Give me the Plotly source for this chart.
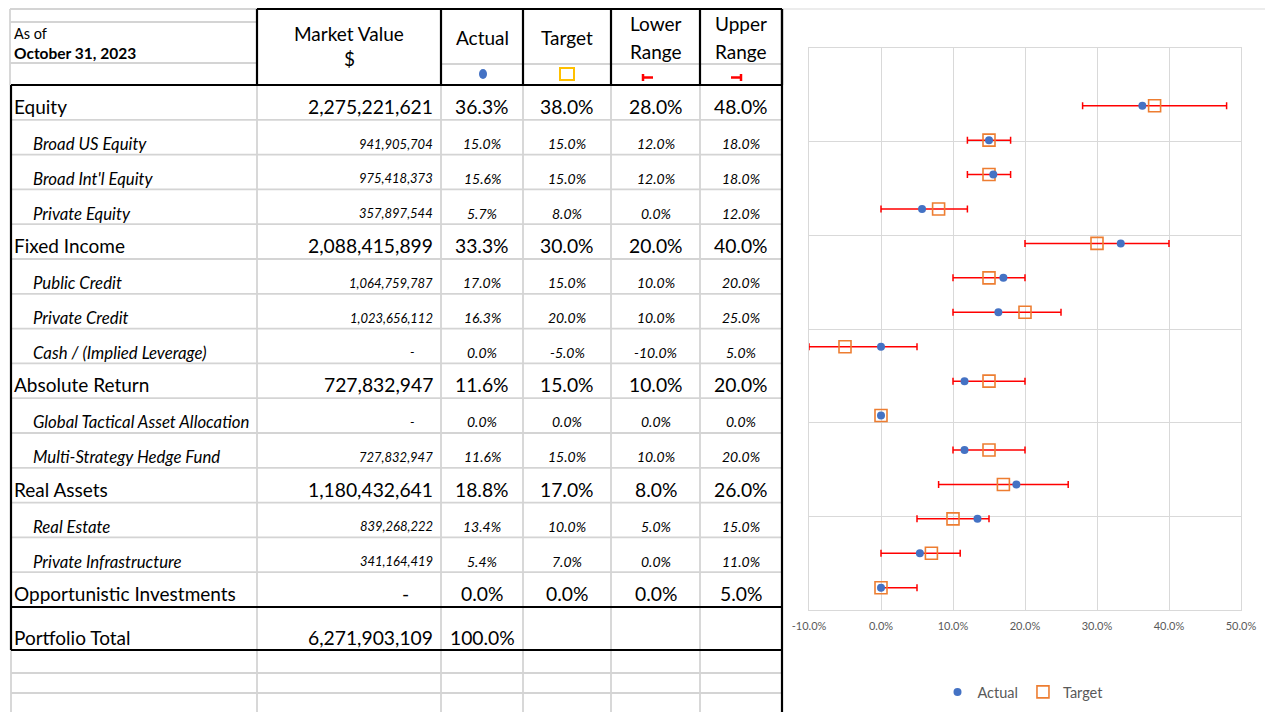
import plotly.graph_objects as go

## ----------- data ----------- ##
AS_OF = "October 31, 2023"
NAMES = [
    "Equity",
    "Broad US Equity",
    "Broad Int'l Equity",
    "Private Equity",
    "Fixed Income",
    "Public Credit",
    "Private Credit",
    "Cash / (Implied Leverage)",
    "Absolute Return",
    "Global Tactical Asset Allocation",
    "Multi-Strategy Hedge Fund",
    "Real Assets",
    "Real Estate",
    "Private Infrastructure",
    "Opportunistic Investments",
]
IS_SUB = [0, 1, 1, 1, 0, 1, 1, 1, 0, 1, 1, 0, 1, 1, 0]
MARKET_VALUE = [
    2275221621, 941905704, 975418373, 357897544,
    2088415899, 1064759787, 1023656112, 0,
    727832947, 0, 727832947,
    1180432641, 839268222, 341164419,
    0,
]
ACTUAL = [36.3, 15.0, 15.6, 5.7, 33.3, 17.0, 16.3, 0.0, 11.6, 0.0, 11.6, 18.8, 13.4, 5.4, 0.0]
TARGET = [38.0, 15.0, 15.0, 8.0, 30.0, 15.0, 20.0, -5.0, 15.0, 0.0, 15.0, 17.0, 10.0, 7.0, 0.0]
LOWER = [28.0, 12.0, 12.0, 0.0, 20.0, 10.0, 10.0, -10.0, 10.0, 0.0, 10.0, 8.0, 5.0, 0.0, 0.0]
UPPER = [48.0, 18.0, 18.0, 12.0, 40.0, 20.0, 25.0, 5.0, 20.0, 0.0, 20.0, 26.0, 15.0, 11.0, 5.0]
TOTAL_VALUE = 6271903109
TOTAL_ACTUAL = 100.0
X_TICKS = [-10, 0, 10, 20, 30, 40, 50]
X_TICK_LABELS = ["-10.0%", "0.0%", "10.0%", "20.0%", "30.0%", "40.0%", "50.0%"]

## ----------- look ----------- ##
W, H = 1265, 712
FONT = "Lato, Calibri, sans-serif"
BLUE = "#4472C4"
ORANGE = "#ED7D31"
GOLD = "#FFC000"
RED = "#FF0000"
GRID = "#D9D9D9"
SHEET = "#D4D4D4"
COL_EDGES = [11, 257, 441, 523, 611, 700, 782]  # table columns in px
ROW_TOP = 85
ROW_H = 34.8
TOTAL_BOTTOM = 650


def fx(x):
    return x / W


def fy(y):
    return 1 - y / H


shapes = []
annotations = []


def hline(x0, x1, y, color=SHEET, width=1.8):
    shapes.append(dict(type="line", xref="paper", yref="paper", x0=fx(x0), x1=fx(x1),
                       y0=fy(y), y1=fy(y), line=dict(color=color, width=width)))


def vline(x, y0, y1, color=SHEET, width=1.8):
    shapes.append(dict(type="line", xref="paper", yref="paper", x0=fx(x), x1=fx(x),
                       y0=fy(y0), y1=fy(y1), line=dict(color=color, width=width)))


def text(x, y, s, size=18, anchor="left", bold=False, italic=False, color="black"):
    if bold:
        s = f"<b>{s}</b>"
    if italic:
        s = f"<i>{s}</i>"
    annotations.append(dict(x=fx(x), y=fy(y), xref="paper", yref="paper", text=s,
                            showarrow=False, xanchor=anchor, yanchor="middle",
                            font=dict(family=FONT, size=size, color=color)))


# ----------- spreadsheet grid ----------- #
n = len(NAMES)
row_tops = [ROW_TOP + ROW_H * i for i in range(n + 1)]
below = [673, 693]

# light sheet gridlines first
for y in [9, 22, 63]:
    hline(10, 257, y)
hline(441, 782, 64)
vline(10, 9, 85)
for y in row_tops[1:-1]:
    hline(11, 782, y)
for y in below:
    hline(11, 782, y)
for x in COL_EDGES[1:-1]:
    vline(x, 85, H)
vline(11, TOTAL_BOTTOM, H)
hline(782, W, 9, color=GRID, width=1)

# black borders
BK = "black"
hline(257, 782, 9, BK, 2.2)
hline(11, 782, 85, BK, 2.2)
for x in COL_EDGES[1:]:
    vline(x, 9, 85, BK, 2.2)
vline(11, 85, TOTAL_BOTTOM, BK, 2.2)
vline(782, 9, H, BK, 2.2)
hline(11, 782, row_tops[-1], BK, 2.2)
hline(11, 782, TOTAL_BOTTOM, BK, 2.2)

# ----------- header ----------- #
text(12, 33, "As of", size=14.5)
text(12, 53, AS_OF, size=15.5, bold=True)
mv_c = (COL_EDGES[1] + COL_EDGES[2]) / 2
text(mv_c, 33, "Market Value", size=19, anchor="center")
text(mv_c, 58, "$", size=19, anchor="center")
centers = [(COL_EDGES[i] + COL_EDGES[i + 1]) / 2 for i in range(2, 6)]
text(centers[0], 37, "Actual", size=19, anchor="center")
text(centers[1], 37, "Target", size=19, anchor="center")
text(centers[2], 23, "Lower", size=19, anchor="center")
text(centers[2], 51, "Range", size=19, anchor="center")
text(centers[3], 23, "Upper", size=19, anchor="center")
text(centers[3], 51, "Range", size=19, anchor="center")

# little legend icons under the headers
shapes.append(dict(type="circle", xref="paper", yref="paper", x0=fx(479), x1=fx(487),
                   y0=fy(69), y1=fy(79), fillcolor=BLUE, line=dict(width=0)))
shapes.append(dict(type="rect", xref="paper", yref="paper", x0=fx(560), x1=fx(574),
                   y0=fy(68), y1=fy(80), line=dict(color=GOLD, width=2)))
hline(642, 653, 77.5, RED, 2.5)
vline(643, 74, 81, RED, 2.5)
hline(731, 742, 77.5, RED, 2.5)
vline(741, 74, 81, RED, 2.5)

# ----------- table body ----------- #
for i, name in enumerate(NAMES):
    bottom = row_tops[i + 1]
    sub = IS_SUB[i] == 1
    y = bottom - (11 if sub else 13.5)
    name_size, num_size, pct_size = (16.8, 13, 14) if sub else (19, 19.3, 19.3)
    text(31 if sub else 12, y, name, size=name_size, italic=sub)
    mv = MARKET_VALUE[i]
    if mv:
        text(435, y, f"{mv:,.0f}", size=num_size, anchor="right", italic=sub)
    else:
        text(417 if sub else 411, y, "-", size=num_size, anchor="right", italic=sub)
    for c, v in zip(centers, [ACTUAL[i], TARGET[i], LOWER[i], UPPER[i]]):
        text(c, y, f"{v:.1f}%", size=pct_size, anchor="center", italic=sub)

text(12, TOTAL_BOTTOM - 12.5, "Portfolio Total", size=19)
text(435, TOTAL_BOTTOM - 12.5, f"{TOTAL_VALUE:,.0f}", size=19.3, anchor="right")
text(centers[0], TOTAL_BOTTOM - 12.5, f"{TOTAL_ACTUAL:.1f}%", size=19.3, anchor="center")

# ----------- chart ----------- #
rows = list(range(n))
err_plus = [u - t for u, t in zip(UPPER, TARGET)]
err_minus = [t - lo for t, lo in zip(TARGET, LOWER)]

fig = go.Figure()
fig.add_trace(go.Scatter(
    x=TARGET, y=rows, mode="markers", name="Target", legendrank=2,
    marker=dict(symbol="square-open", size=12, color=ORANGE, line=dict(width=1.6)),
    error_x=dict(type="data", symmetric=False, array=err_plus, arrayminus=err_minus,
                 color=RED, thickness=1.5, width=3.5),
))
fig.add_trace(go.Scatter(
    x=ACTUAL, y=rows, mode="markers", name="Actual", legendrank=1,
    marker=dict(symbol="circle", size=8, color=BLUE),
))

y_top, y_bot = -1.676, 14.647
step = (y_bot - y_top) / 6
fig.update_layout(
    width=W, height=H,
    margin=dict(l=0, r=0, t=0, b=0, autoexpand=False),
    paper_bgcolor="white", plot_bgcolor="white",
    font=dict(family=FONT, color="#595959"),
    xaxis=dict(domain=[fx(809), fx(1241)], range=[-10, 50], tickvals=X_TICKS,
               ticktext=X_TICK_LABELS, showgrid=True, gridcolor=GRID, gridwidth=1,
               zeroline=False, showline=True, mirror=True, linecolor=GRID,
               ticks="outside", ticklen=6, tickcolor="rgba(0,0,0,0)", automargin=False,
               tickfont=dict(size=11, color="#595959")),
    yaxis=dict(domain=[fy(610), fy(48)], range=[y_bot, y_top], automargin=False,
               tickvals=[y_top + step * k for k in range(7)], showticklabels=False,
               showgrid=True, gridcolor=GRID, gridwidth=1, zeroline=False,
               showline=True, mirror=True, linecolor=GRID),
    showlegend=True,
    legend=dict(orientation="h", x=fx(1023), xanchor="center", y=fy(692),
                yanchor="middle", font=dict(size=14.5, color="#595959"),
                itemwidth=30, bgcolor="rgba(0,0,0,0)"),
    shapes=shapes,
    annotations=annotations,
)

fig.write_html("out.html", config={"displayModeBar": False},
               post_script="document.body.style.margin='0';")
